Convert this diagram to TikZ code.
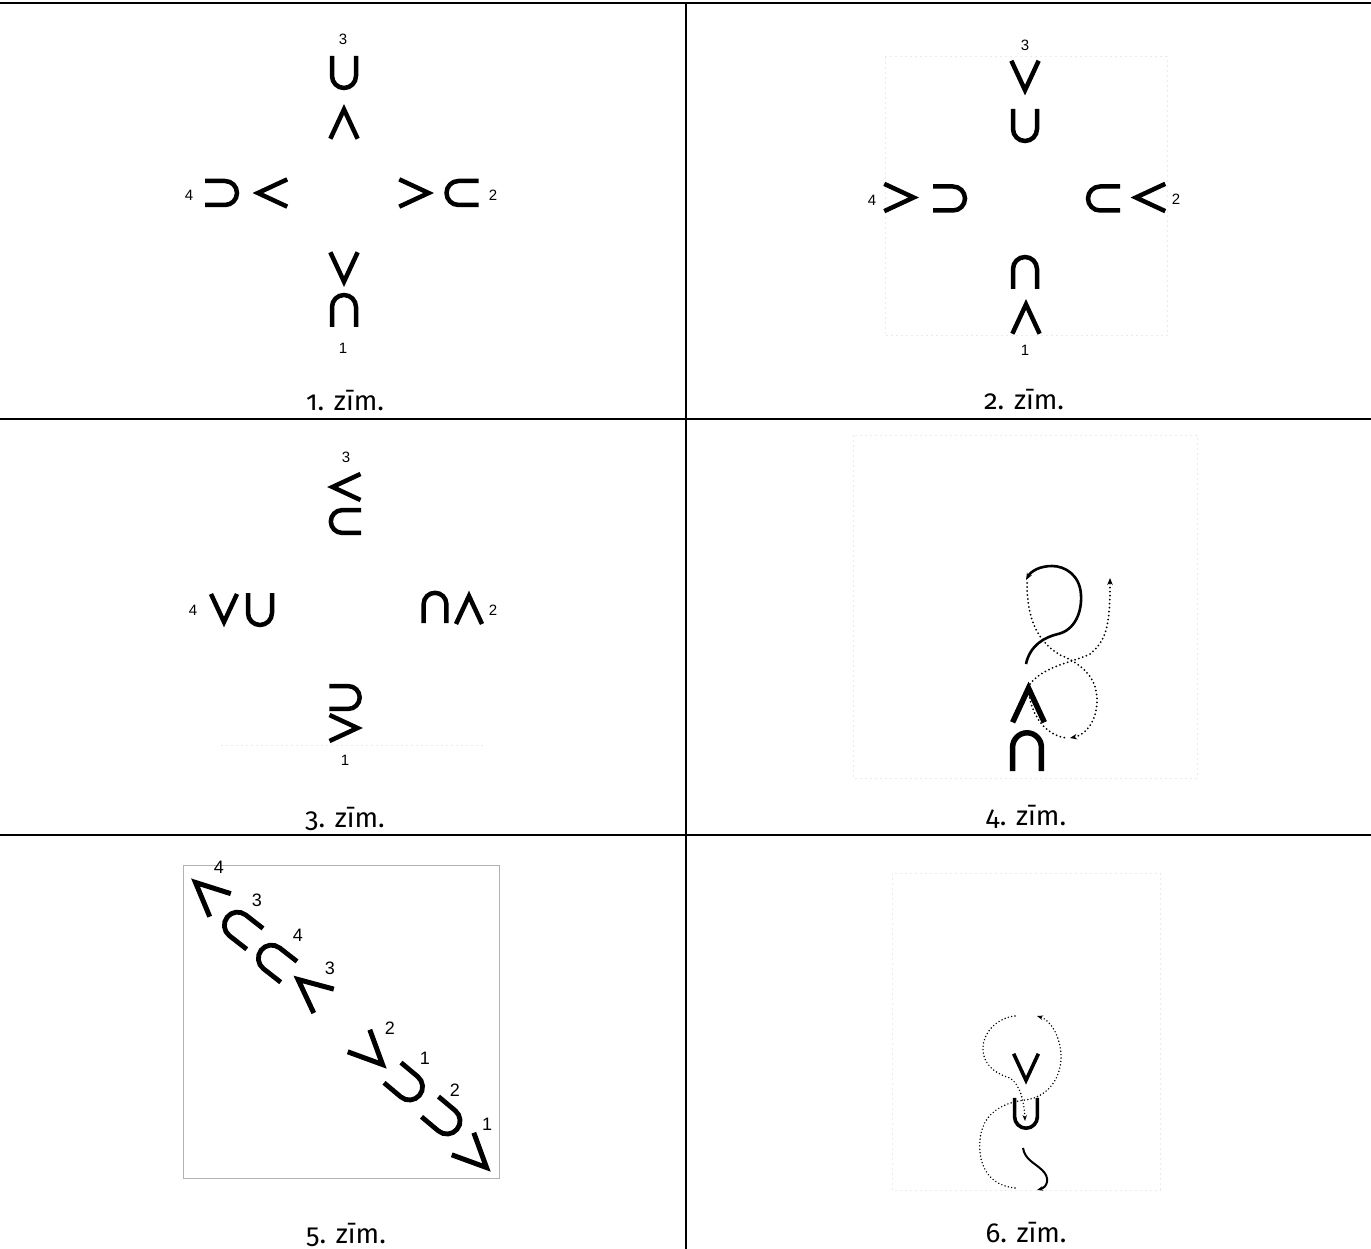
\documentclass[tikz,border=0pt]{standalone}
\usepackage{fontspec}
\setmainfont[Numbers=OldStyle]{Fira Sans}
\newfontfamily\labfont{Liberation Sans}
\usetikzlibrary{arrows.meta}
\tikzset{
  G/.style={line width=4.5pt,line join=miter,line cap=butt},
  pics/cupU/.style={code={\draw (-12,-16) -- (-12,4) .. controls (-12,10.6) and (-6.6,16) .. (0,16) .. controls (6.6,16) and (12,10.6) .. (12,4) -- (12,-16);}},
  pics/hat/.style={code={\draw (-13,15) -- (0,-13) -- (13,15);}},
  gridline/.style={line width=1.8pt},
  captxt/.style={anchor=base,inner sep=0pt,font=\fontsize{27.5}{32}\selectfont},
  lab/.style={inner sep=0pt,font=\labfont\fontsize{15}{17}\selectfont},
  labb/.style={inner sep=0pt,font=\labfont\fontsize{18}{20}\selectfont},
  faint/.style={black!8,line width=1pt,dash pattern=on 2pt off 3pt},
  dots/.style={line width=2pt,line cap=round,dash pattern=on 0pt off 4pt},
  dotsS/.style={line width=1.6pt,line cap=round,dash pattern=on 0pt off 3.4pt},
  tip/.style={-{Stealth[length=7pt,width=5.5pt]}},
  tipS/.style={-{Stealth[length=6pt,width=4.5pt]}},
}
\begin{document}
\begin{tikzpicture}[x=1pt,y=-1pt]
\useasboundingbox (0,0) rectangle (1371,1249);
% grid
\coordinate (tl) at (0,3); \coordinate (tr) at (1371,3);
\coordinate (ml) at (0,419); \coordinate (mr) at (1371,419);
\coordinate (ll) at (0,835); \coordinate (lr) at (1371,835);
\coordinate (vt) at (686,3); \coordinate (vb) at (686,1249);
\draw[gridline] (tl) -- (tr);
\draw[gridline] (ml) -- (mr);
\draw[gridline] (ll) -- (lr);
\draw[gridline] (vt) -- (vb);

% ---------- cell 1 ----------
\node[lab] (a3) at (343,39) {3};
\pic[G] at (344,72) {cupU};
\pic[G,scale=1.05] at (344,123) {hat};
\node[lab] (a4) at (189,195) {4};
\pic[G,rotate=90] at (221,193) {cupU};
\pic[G,rotate=90,scale=1.05] at (271.5,193) {hat};
\pic[G,rotate=-90,scale=1.05] at (415,193) {hat};
\pic[G,rotate=-90] at (462.5,193) {cupU};
\node[lab] (a2) at (493,195) {2};
\pic[G,rotate=180,scale=1.05] at (344,268) {hat};
\pic[G,rotate=180] at (344,311) {cupU};
\node[lab] (a1) at (343,348) {1};
\node[captxt] (c1) at (345,410) {1. zīm.};

% ---------- cell 2 ----------
\draw[faint] (885,57) rectangle (1167,336);
\node[lab] (b3) at (1025,45) {3};
\pic[G,rotate=180,scale=1.05] at (1025,76.5) {hat};
\pic[G] at (1025,125) {cupU};
\node[lab] (b4) at (872,200) {4};
\pic[G,rotate=-90,scale=1.05] at (900,197.5) {hat};
\pic[G,rotate=90] at (949,198.5) {cupU};
\pic[G,rotate=-90] at (1104,198.5) {cupU};
\pic[G,rotate=90,scale=1.05] at (1149.5,197.5) {hat};
\node[lab] (b2) at (1176,199) {2};
\pic[G,rotate=180] at (1025,273) {cupU};
\pic[G,scale=1.05] at (1026,318) {hat};
\node[lab] (b1) at (1025,350) {1};
\node[captxt] (c2) at (1024,409) {2. zīm.};

% ---------- cell 3 ----------
\draw[faint] (221,745) -- (486,745);
\node[lab] (d3) at (346,457) {3};
\pic[G,rotate=90] at (345.5,487) {hat};
\pic[G,rotate=-90,scale=0.95] at (346,521.5) {cupU};
\node[lab] (d4) at (193,610) {4};
\pic[G,rotate=180] at (224,609) {hat};
\pic[G] at (260,609) {cupU};
\pic[G,rotate=180,scale=0.95] at (435,608) {cupU};
\pic[G] at (469,609) {hat};
\node[lab] (d2) at (493,610) {2};
\pic[G,rotate=90,scale=0.95] at (344.5,697.5) {cupU};
\pic[G,rotate=-90] at (344.5,728) {hat};
\node[lab] (d1) at (345,760) {1};
\node[captxt] (c3) at (345,827) {3. zīm.};

% ---------- cell 4 ----------
\draw[faint] (853,435) rectangle (1197,778);
\pic[G,line width=5.5pt,scale=1.22] at (1028.5,704) {hat};
\pic[G,line width=5.5pt,rotate=180,scale=1.2] at (1027,752) {cupU};
\coordinate (s4a) at (1026,664);
\coordinate (s4b) at (1026,580);
\draw[line width=2.6pt,tip] (s4a) .. controls (1030,645) and (1045,637) .. (1058,634)
  .. controls (1075,630) and (1082,612) .. (1081,595)
  .. controls (1080,575) and (1065,566) .. (1052,566)
  .. controls (1040,566) and (1031,571) .. (s4b);
\coordinate (p4a) at (1027,583);
\coordinate (p4b) at (1070,738);
\draw[dots,tip] (p4a) .. controls (1027,615) and (1035,640) .. (1060,655)
  .. controls (1085,665) and (1097,680) .. (1097,700)
  .. controls (1097,722) and (1085,735) .. (p4b);
\coordinate (q4a) at (1028,686);
\coordinate (q4b) at (1066,738);
\draw[dots] (q4a) .. controls (1030,715) and (1045,735) .. (q4b);
\coordinate (r4a) at (1030,684);
\coordinate (r4b) at (1110,578);
\draw[dots,tip] (r4a) .. controls (1045,665) and (1075,662) .. (1090,654)
  .. controls (1108,640) and (1110,620) .. (r4b);
\node[captxt] (c4) at (1026,825) {4. zīm.};

% ---------- cell 5 ----------
\draw[gray!60,line width=1pt] (183,865) rectangle (499,1178);
\pic[G,line width=5pt,rotate=47.5,scale=1.2] at (207,893) {hat};
\pic[G,line width=4.8pt,rotate=-128,scale=1.1] at (241,928) {cupU};
\pic[G,line width=4.8pt,rotate=-128,scale=1.1] at (275,961) {cupU};
\pic[G,line width=5pt,rotate=50,scale=1.2] at (310,989.5) {hat};
\pic[G,line width=5pt,rotate=-135,scale=1.2] at (371.5,1053.5) {hat};
\pic[G,line width=4.8pt,rotate=50,scale=1.1] at (406,1084) {cupU};
\pic[G,line width=4.8pt,rotate=50,scale=1.1] at (443.5,1118) {cupU};
\pic[G,line width=5pt,rotate=-135,scale=1.2] at (475.5,1156.5) {hat};
\node[labb] (e4a) at (219,867) {4};
\node[labb] (e3a) at (257,900) {3};
\node[labb] (e4b) at (298,935) {4};
\node[labb] (e3b) at (330,968) {3};
\node[labb] (e2a) at (390,1028) {2};
\node[labb] (e1a) at (425,1058) {1};
\node[labb] (e2b) at (455,1090) {2};
\node[labb] (e1b) at (487,1124) {1};
\node[captxt] (c5) at (346,1243) {5. zīm.};

% ---------- cell 6 ----------
\draw[faint] (892,873) rectangle (1160,1190);
\pic[G,line width=3.6pt,rotate=180,scale=0.95] at (1026,1068) {hat};
\pic[G,line width=3.6pt,scale=0.95] at (1026,1113) {cupU};
\coordinate (p6a) at (1015,1016);
\coordinate (p6b) at (1025,1121);
\draw[dotsS,tipS] (p6a) .. controls (995,1018) and (982,1035) .. (983,1050)
  .. controls (984,1068) and (1000,1075) .. (1010,1078)
  .. controls (1020,1085) and (1024,1100) .. (p6b);
\coordinate (q6a) at (1015,1188);
\coordinate (q6b) at (1037,1016);
\draw[dotsS,tipS] (q6a) .. controls (985,1185) and (978,1160) .. (980,1140)
  .. controls (982,1115) and (1000,1103) .. (1025,1100)
  .. controls (1050,1097) and (1062,1075) .. (1061,1055)
  .. controls (1060,1035) and (1050,1020) .. (q6b);
\coordinate (s6a) at (1023,1148);
\coordinate (s6b) at (1037,1190);
\draw[line width=2pt,tipS] (s6a) .. controls (1025,1160) and (1035,1163) .. (1042,1170)
  .. controls (1050,1177) and (1048,1187) .. (s6b);
\node[captxt] (c6) at (1026,1242) {6. zīm.};
\end{tikzpicture}
\end{document}
